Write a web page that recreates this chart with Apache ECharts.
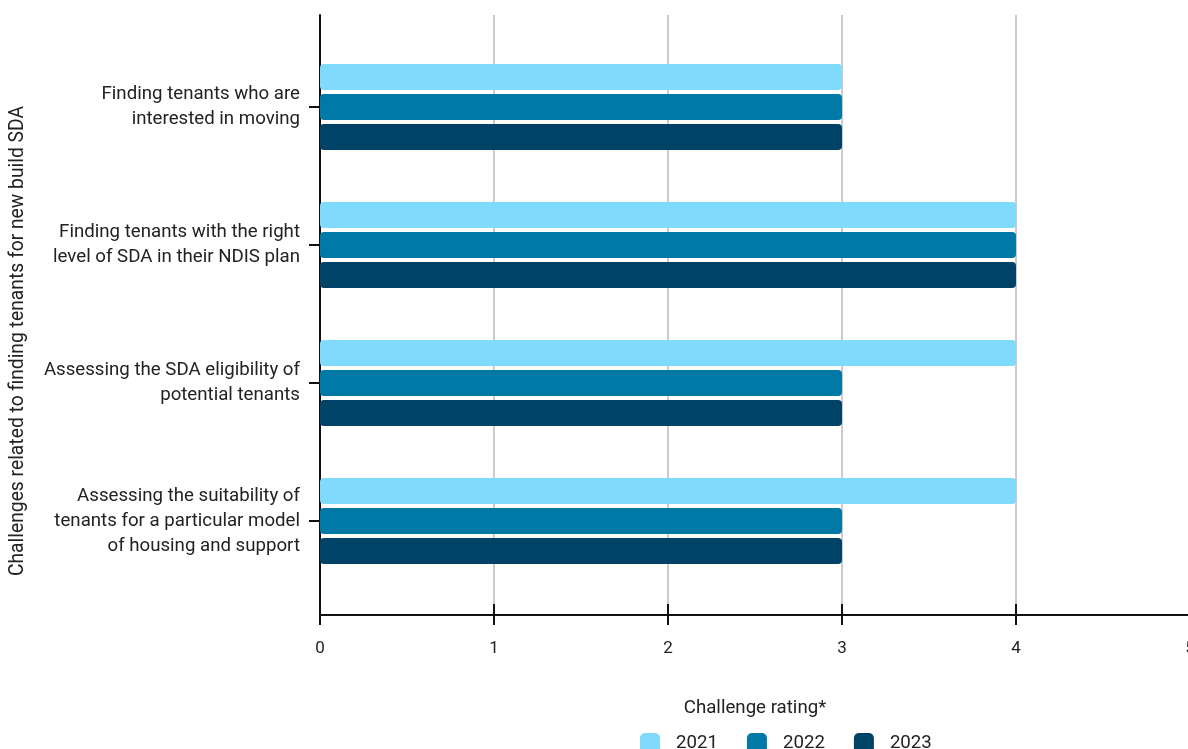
<!DOCTYPE html>
<html><head><meta charset="utf-8">
<script src="https://cdn.jsdelivr.net/npm/echarts@6/dist/echarts.min.js"></script>
<style>html,body{margin:0;padding:0;background:#fff}#c{width:1188px;height:749px}</style>
</head><body><div id="c"></div>
<script>
const categories = [
  'Finding tenants who are\ninterested in moving',
  'Finding tenants with the right\nlevel of SDA in their NDIS plan',
  'Assessing the SDA eligibility of\npotential tenants',
  'Assessing the suitability of\ntenants for a particular model\nof housing and support'
];
const years = ['2021', '2022', '2023'];
const values2021 = [3, 4, 4, 4];
const values2022 = [3, 4, 3, 3];
const values2023 = [3, 4, 3, 3];
const xTicks = [0, 1, 2, 3, 4, 5];
const colors = ['#7FDAFB', '#0079A6', '#004366'];
const seriesValues = [values2021, values2022, values2023];
const font = 'Roboto, "Noto Sans", sans-serif';
const fs = 18.67;

const chart = echarts.init(document.getElementById('c'));
chart.setOption({
  animation: false,
  textStyle: { fontFamily: font },
  color: colors,
  grid: [
    { left: 320, top: 15, width: 870, height: 600, containLabel: false, outerBoundsMode: 'none' },
    { left: 320, top: 38, width: 870, height: 552, containLabel: false, outerBoundsMode: 'none' }
  ],
  xAxis: [
    { gridIndex: 0, type: 'value', min: xTicks[0], max: xTicks[xTicks.length-1], interval: 1,
      axisLine: { show: true, lineStyle: { color: '#111', width: 2 } },
      axisTick: { show: true, length: 10, lineStyle: { color: '#111', width: 2 } },
      splitLine: { show: true, lineStyle: { color: '#ccc', width: 2 } },
      axisLabel: { fontSize: 17, color: '#222', margin: 25, fontFamily: font },
      name: 'Challenge rating*', nameLocation: 'middle', nameGap: 84,
      nameTextStyle: { fontSize: fs, color: '#222', fontFamily: font } },
    { gridIndex: 1, type: 'value', min: 0, max: 5, interval: 1, show: false },
    { gridIndex: 0, type: 'value', min: 0, max: 5, interval: 1, position: 'bottom',
      axisLine: { show: false }, axisLabel: { show: false }, splitLine: { show: false },
      axisTick: { show: true, inside: true, length: 11, lineStyle: { color: '#111', width: 2 } } }
  ],
  yAxis: [
    { gridIndex: 0, type: 'value', min: 0, max: 1,
      axisLine: { show: true, lineStyle: { color: '#111', width: 2 } },
      axisTick: { show: false }, axisLabel: { show: false }, splitLine: { show: false } },
    { gridIndex: 1, type: 'category', inverse: true, data: categories, position: 'left',
      axisLine: { show: false },
      axisTick: { show: true, alignWithLabel: true, length: 11, lineStyle: { color: '#111', width: 2 } },
      axisLabel: { fontSize: fs, color: '#222', margin: 20, lineHeight: 25, align: 'right', fontFamily: font },
      splitLine: { show: false } },
    { gridIndex: 1, type: 'category', inverse: true, data: categories, position: 'left',
      axisLine: { show: false }, axisLabel: { show: false },
      axisTick: { show: true, inside: true, alignWithLabel: true, length: 11, lineStyle: { color: '#111', width: 2 } } }
  ],
  legend: {
    data: years, top: 728, left: 635, itemWidth: 20, itemHeight: 20, itemGap: 29,
    icon: 'roundRect',
    textStyle: { fontSize: fs, color: '#222', padding: [0, 0, 0, 11], fontFamily: font }
  },
  graphic: [{
    type: 'text', x: 18, y: 341, rotation: Math.PI / 2,
    style: { text: 'Challenges related to finding tenants for new build SDA', fontSize: 19.3,
      fill: '#222', fontFamily: font, align: 'center', verticalAlign: 'middle' }
  }],
  series: years.map((y, i) => ({
    name: y, type: 'bar', xAxisIndex: 1, yAxisIndex: 1,
    data: seriesValues[i], barWidth: 26, barGap: '15%',
    itemStyle: { color: colors[i], borderRadius: 4 }
  }))
});
</script></body></html>
